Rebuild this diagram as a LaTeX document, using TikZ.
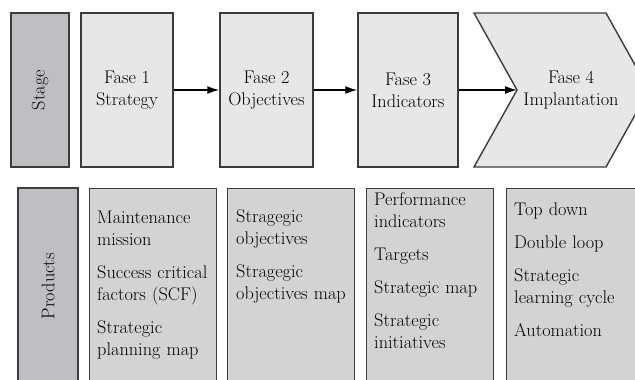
\documentclass[tikz,border=0pt]{standalone}
\usetikzlibrary{arrows.meta}
\definecolor{darkbox}{RGB}{190,191,195}
\definecolor{lightbox}{RGB}{230,231,233}
\definecolor{midbox}{RGB}{210,211,213}
\definecolor{edge}{RGB}{60,60,60}

\begin{document}
\begin{tikzpicture}[x=1pt, y=-1pt,
    every node/.style={font=\fontsize{18.3}{22}\selectfont},
    phase/.style={draw=edge, line width=1.4pt, fill=lightbox, minimum height=154pt, align=center, inner sep=0pt},
    sidebox/.style={draw=edge, line width=1.4pt, fill=darkbox, rotate=90, inner sep=0pt},
    product/.style={draw=edge, line width=1.4pt, fill=midbox, minimum width=127pt, minimum height=196pt, anchor=north west, inner sep=0pt},
    items/.style={text width=125pt, align=left, anchor=base west, inner sep=0pt},
    flow/.style={-{Latex[length=12pt,width=8pt]}, line width=1.6pt}]
   \useasboundingbox (0,0) rectangle (635,380);
   \clip (0,0) rectangle (635,380);

   % stage row
   \node[sidebox, minimum width=154pt, minimum height=58pt] (stage) at (40,90) {Stage};
   \node[phase, minimum width=92pt] (f1) at (127,90) {Fase 1\\Strategy};
   \node[phase, minimum width=93pt] (f2) at (266.5,90) {Fase 2\\Objectives};
   \node[phase, minimum width=100pt] (f3) at (408,90) {Fase 3\\Indicators};
   \draw[draw=edge, line width=1.4pt, fill=lightbox]
     (474,13) -- (606,13) -- (649,90) -- (606,167) -- (474,167) -- (517,90) -- cycle;
   \coordinate (notch) at (517,90);
   \node[align=center, inner sep=0pt] (f4) at (571,90) {Fase 4\\Implantation};

   \draw[flow] (f1) -- (f2);
   \draw[flow] (f2) -- (f3);
   \draw[flow] (f3) -- (notch);

   % products row
   \node[sidebox, minimum width=196pt, minimum height=60pt] (prod) at (48,286) {Products};
   \node[product] (p1) at (89,188) {};
   \node[product] (p2) at (227,188) {};
   \node[product] (p3) at (366,188) {};
   \node[product, minimum width=140pt] (p4) at (506,188) {};

   \node[items] (t1) at (97,223) {Maintenance\\mission\\[11pt]Success critical\\factors (SCF)\\[11pt]Strategic\\planning map};
   \node[items] (t2) at (236,222) {Stragegic\\objectives\\[11pt]Stragegic\\objectives map};
   \node[items] (t3) at (374,205) {Performance\\indicators\\[11pt]Targets\\[11pt]Strategic map\\[11pt]Strategic\\initiatives};
   \node[items] (t4) at (514,215) {Top down\\[11pt]Double loop\\[11pt]Strategic\\learning cycle\\[11pt]Automation};
\end{tikzpicture}
\end{document}
